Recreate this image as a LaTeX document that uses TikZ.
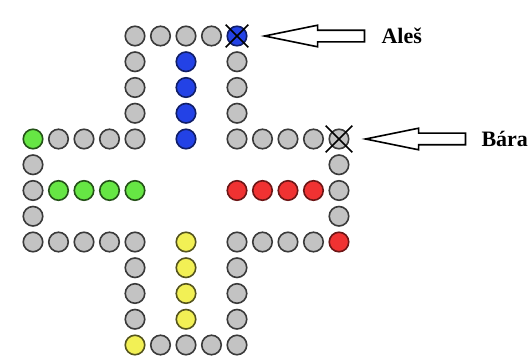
\documentclass[tikz,border=0pt]{standalone}
\usepackage{fontspec}
\setmainfont{Liberation Serif}
\usepackage{tikz}
\usetikzlibrary{
  arrows.meta,
  positioning,
  shapes.arrows,
  shapes.misc
}
\usepackage{xcolor}
\definecolor{holegray}{HTML}{C3C3C3}
\definecolor{holeline}{HTML}{3A3A3A}
\definecolor{pblue}{HTML}{2342E6}
\definecolor{pgreen}{HTML}{66E644}
\definecolor{pred}{HTML}{F03232}
\definecolor{pyellow}{HTML}{F2F055}

\begin{document}
\begin{tikzpicture}[
			x=25.5pt, y=-25.75pt,
			hole/.style={circle, draw=holeline, fill=holegray, line width=1.6pt,
				minimum size=19.5pt, inner sep=0pt},
			blu/.style={hole, draw=pblue!45!black, fill=pblue},
			grn/.style={hole, draw=pgreen!35!black, fill=pgreen},
			rd/.style={hole, draw=pred!45!black, fill=pred},
			ylw/.style={hole, draw=pyellow!35!black, fill=pyellow},
			hit/.style={draw, cross out, line width=1.6pt, inner sep=0pt},
			arr/.style={single arrow, draw, fill=white, line width=1.6pt,
				shape border rotate=180, minimum height=100pt, minimum width=0pt,
				single arrow head extend=5pt, single arrow tip angle=23, inner sep=5pt},
			nm/.style={font=\bfseries\fontsize{22}{25}\selectfont, inner sep=0pt}
			]
			\useasboundingbox (-1.294,-1.398) rectangle (19.57,12.50);
			% grey track
			\foreach \c/\r in {4/0,5/0,6/0,7/0, 4/1,8/1, 4/2,8/2, 4/3,8/3,
				1/4,2/4,3/4,4/4, 8/4,9/4,10/4,11/4,12/4,
				0/5,12/5, 0/6,12/6, 0/7,12/7,
				0/8,1/8,2/8,3/8,4/8, 8/8,9/8,10/8,11/8,
				4/9,8/9, 4/10,8/10, 4/11,8/11, 5/12,6/12,7/12,8/12}
				\node[hole] (f-\c-\r) at (\c,\r) {};
			% blue pieces
			\node[blu] (f-8-0) at (8,0) {};
			\foreach \r in {1,...,4} \node[blu] (f-6-\r) at (6,\r) {};
			% green pieces
			\node[grn] (f-0-4) at (0,4) {};
			\foreach \c in {1,...,4} \node[grn] (f-\c-6) at (\c,6) {};
			% red pieces
			\foreach \c in {8,...,11} \node[rd] (f-\c-6) at (\c,6) {};
			\node[rd] (f-12-8) at (12,8) {};
			% yellow pieces
			\foreach \r in {8,...,11} \node[ylw] (f-6-\r) at (6,\r) {};
			\node[ylw] (f-4-12) at (4,12) {};
			% crossed fields
			\node[hit, minimum size=21pt] (x1) at (f-8-0) {};
			\node[hit, minimum size=25pt] (x2) at (f-12-4) {};
			% players
			\node[arr, right=13pt of f-8-0] (a1) {};
			\node[nm, right=16pt of a1] (ales) {Aleš};
			\node[arr, right=12pt of f-12-4] (a2) {};
			\node[nm, right=15pt of a2] (bara) {Bára};
	\end{tikzpicture}
\end{document}
